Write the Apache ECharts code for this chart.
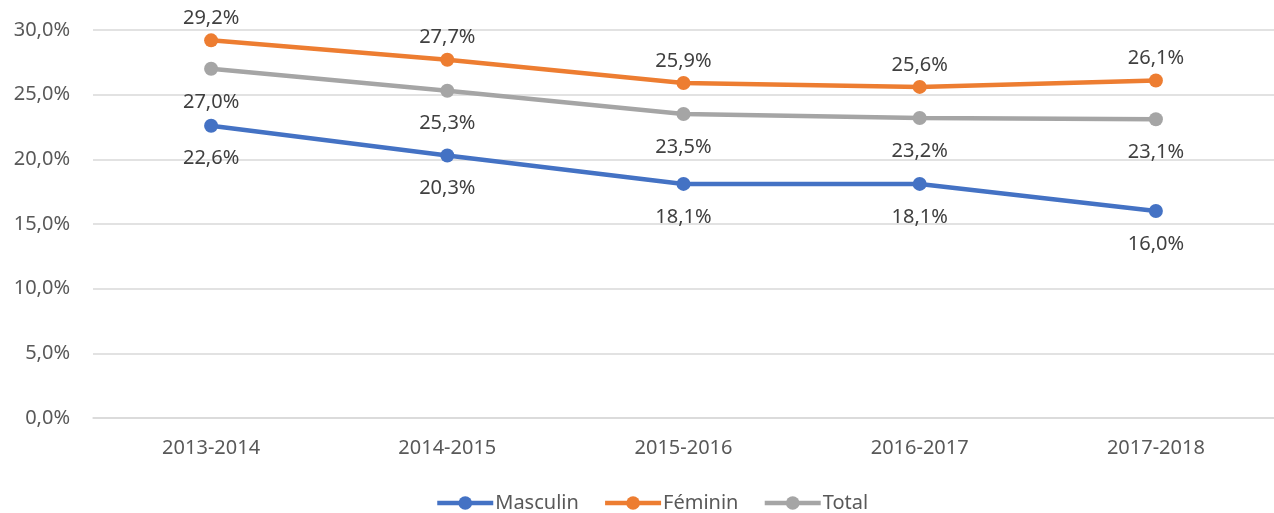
<!DOCTYPE html>
<html><head><meta charset="utf-8">
<script src="https://cdn.jsdelivr.net/npm/echarts@6/dist/echarts.min.js"></script>
<style>html,body{margin:0;padding:0;background:#fff}#c{width:1274px;height:513px}</style>
</head><body><div id="c"></div>
<script>
const categories = ['2013-2014','2014-2015','2015-2016','2016-2017','2017-2018'];
const masculin = [22.6, 20.3, 18.1, 18.1, 16.0];
const feminin = [29.2, 27.7, 25.9, 25.6, 26.1];
const total = [27.0, 25.3, 23.5, 23.2, 23.1];
const yTicks = [0, 5, 10, 15, 20, 25, 30];

const FONT = '"Noto Sans", sans-serif';
const FS = 20;
const fmt = v => v.toFixed(1).replace('.', ',') + '%';
function mk(name, data, color, pos, dist) {
  return {
    name, type: 'line', data, symbol: 'circle', symbolSize: 14,
    lineStyle: { width: 4.5, color }, itemStyle: { color },
    label: { show: true, position: pos, distance: dist, formatter: p => fmt(p.value),
      color: '#404040', fontSize: FS, fontFamily: FONT },
    emphasis: { disabled: true }, animation: false
  };
}
const chart = echarts.init(document.getElementById('c'));
chart.setOption({
  animation: false,
  grid: { left: 93, right: 0, top: 30, bottom: 95, containLabel: false },
  legend: {
    top: 488, left: 430, itemWidth: 56, itemHeight: 17, itemGap: 24,
    lineStyle: { width: 4.5 },
    textStyle: { color: '#595959', fontSize: FS, fontFamily: FONT, padding: [0, 0, 0, -3] },
    data: ['Masculin', 'Féminin', 'Total']
  },
  xAxis: {
    type: 'category', data: categories, boundaryGap: true,
    axisLine: { show: true, lineStyle: { color: '#d9d9d9', width: 1.5 } },
    axisTick: { show: false },
    axisLabel: { color: '#595959', fontSize: FS, fontFamily: FONT, margin: 20 }
  },
  yAxis: {
    type: 'value', min: yTicks[0], max: yTicks[yTicks.length - 1], interval: 5,
    axisLine: { show: false }, axisTick: { show: false },
    splitLine: { lineStyle: { color: '#d9d9d9', width: 1.5 } },
    axisLabel: { color: '#595959', fontSize: FS, fontFamily: FONT, margin: 23, formatter: v => fmt(v) }
  },
  series: [
    mk('Masculin', masculin, '#4472C4', 'bottom', 16),
    mk('Féminin', feminin, '#ED7D31', 'top', 5),
    mk('Total', total, '#A5A5A5', 'bottom', 16)
  ]
});
</script></body></html>
